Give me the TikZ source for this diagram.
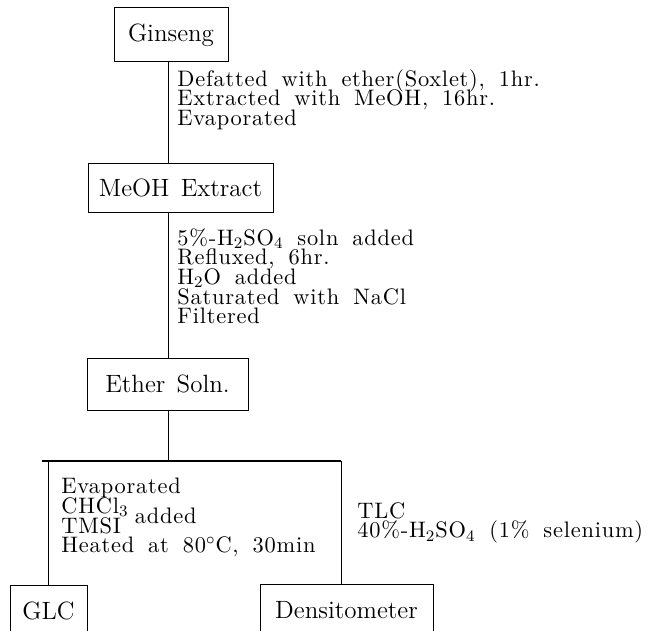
\documentclass[tikz,border=0pt]{standalone}
\usepackage{fontspec}
\usetikzlibrary{positioning}

\newfontfamily\condfamily{lmroman10-regular.otf}[LetterSpace=3.5]
\newcommand\boxfont{\fontsize{12.5}{14}\selectfont\spaceskip=0.45em\relax}
\newcommand\condfont{\condfamily\fontsize{11.2}{9.8}\selectfont
    \spaceskip=0.62em\relax\lineskiplimit=-20pt\relax}

\begin{document}
\begin{tikzpicture}[
    x=0.5pt, y=-0.5pt,
    stage/.style={
        draw,
        line width=0.5pt,
        inner sep=0pt,
        font=\boxfont
    },
    cond/.style={
        anchor=north west,
        inner sep=0pt,
        align=left,
        font=\condfont
    },
    flow/.style={line width=0.5pt},
    split/.style={line width=1.1pt}
]
\useasboundingbox (0,0) rectangle (658,631);

% Main column
\node[stage, minimum width=57pt, minimum height=27pt] (ginseng) at (171,35) {Ginseng};
\node[stage, minimum width=92.5pt, minimum height=24.5pt] (meoh) at (180.5,187.5) {MeOH Extract};
\node[stage, minimum width=80.5pt, minimum height=26pt] (ether) at (167.5,384) {Ether Soln.};

% Analysis boxes (cut by the page edge)
\node[stage, minimum width=38.5pt, minimum height=26pt] (glc) at (48.5,611) {GLC};
\node[stage, minimum width=86.5pt, minimum height=26pt] (dens) at (346.5,610) {Densitometer};

% Connectors
\coordinate (trunk) at (168,0);
\coordinate (barL) at (42,461);
\coordinate (barR) at (341,461);
\draw[flow] (ginseng.south -| trunk) -- (meoh.north -| trunk);
\draw[flow] (meoh.south -| trunk) -- (ether.north -| trunk);
\draw[flow] (ether.south -| trunk) -- (barL -| trunk);
\draw[split] (barL) -- (barR);
\draw[flow] (barL -| glc.north) -- (glc.north);
\draw[flow] (barR) -- (dens.north -| barR);

% Conditions
\node[cond] (step1) at (177,69) {Defatted with ether(Soxlet), 1hr.\\
    Extracted with MeOH, 16hr.\\
    Evaporated};
\node[cond] (step2) at (177,228) {5\%-H$_2$SO$_4$ soln added\\
    Refluxed, 6hr.\\
    H$_2$O added\\
    Saturated with NaCl\\
    Filtered};
\node[cond] (step3) at (61,478) {Evaporated\\
    CHCl$_3$\\
    TMSI\raisebox{0.5\baselineskip}{ added}\\
    Heated at 80$^{\circ}$C, 30min};
\node[cond] (step4) at (357,502) {TLC\\
    40\%-H$_2$SO$_4$ (1\% selenium)};

\end{tikzpicture}
\end{document}
